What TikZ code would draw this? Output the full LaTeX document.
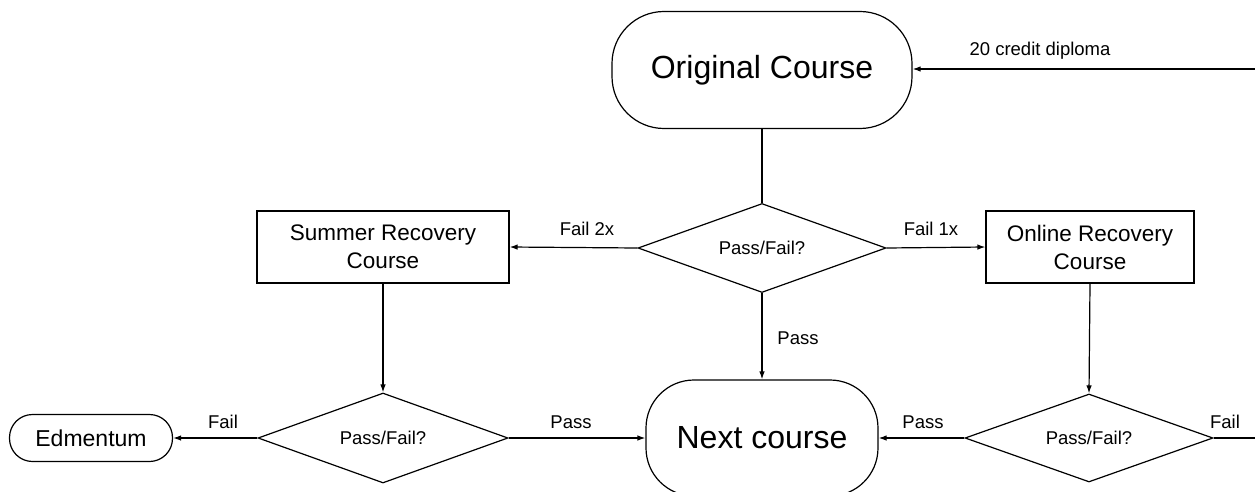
\documentclass[tikz,border=0pt]{standalone}
\usepackage{fontspec}
\setmainfont{Liberation Sans}
\usetikzlibrary{shapes.geometric,arrows.meta}
\begin{document}
\begin{tikzpicture}[x=1pt,y=-1pt,
  every path/.style={line width=1.2pt},
  arr/.style={-{Latex[length=8pt,width=5.5pt]}, line width=1.2pt},
  term/.style={draw, line width=1.2pt, rounded corners=#1, inner sep=0pt, align=center},
  box/.style={draw, line width=1.2pt, inner sep=0pt, align=center, font=\fontsize{22.5}{28}\selectfont},
  dec/.style={draw, diamond, aspect=2.8, line width=1.2pt, inner sep=0pt, font=\fontsize{18.5}{22}\selectfont},
  lbl/.style={inner sep=0pt, font=\fontsize{18.5}{22}\selectfont}]
\useasboundingbox (0,0) rectangle (1255,492);
% nodes
\node[term=52pt, minimum width=300pt, minimum height=117pt, font=\fontsize{32}{38}\selectfont] (orig) at (762,70) {Original Course};
\node[dec, minimum width=248pt, minimum height=89pt] (d1) at (762,248) {Pass/Fail?};
\node[box, minimum width=252pt, minimum height=72pt] (summer) at (383,247) {Summer Recovery\\Course};
\node[box, minimum width=208pt, minimum height=72pt] (online) at (1090,247) {Online Recovery\\Course};
\node[dec, minimum width=250pt, minimum height=90pt] (d2) at (383,438) {Pass/Fail?};
\node[dec, minimum width=248pt, minimum height=88pt] (d3) at (1089,438) {Pass/Fail?};
\node[term=23pt, minimum width=163pt, minimum height=47pt, font=\fontsize{23}{28}\selectfont] (edm) at (91,438) {Edmentum};
\node[term=48pt, minimum width=232pt, minimum height=116pt, font=\fontsize{32}{38}\selectfont] (next) at (762,438) {Next course};
\coordinate (rin) at (1256,69);
\coordinate (rout) at (1256,438);
% connectors
\draw[arr] (rin) -- (orig.east |- rin);
\draw (orig.south) -- (d1.north);
\draw[arr] (d1.west) -- (summer.east);
\draw[arr] (d1.east) -- (online.west);
\draw[arr] (d1.south) -- (next.north);
\draw[arr] (summer.south) -- (d2.north);
\draw[arr] (online.south) -- (d3.north);
\draw[arr] (d2.west) -- (edm.east);
\draw[arr] (d2.east) -- (next.west);
\draw[arr] (d3.west) -- (next.east);
\draw (d3.east) -- (rout);
% labels
\node[lbl] (l20) at (1040,51) {20 credit diploma};
\node[lbl] (lf2) at (587,229) {Fail 2x};
\node[lbl] (lf1) at (931,229) {Fail 1x};
\node[lbl] (lp1) at (798,338) {Pass};
\node[lbl] (lf3) at (223,422) {Fail};
\node[lbl] (lp2) at (571,422) {Pass};
\node[lbl] (lp3) at (923,422) {Pass};
\node[lbl] (lf4) at (1225,422) {Fail};
\end{tikzpicture}
\end{document}
